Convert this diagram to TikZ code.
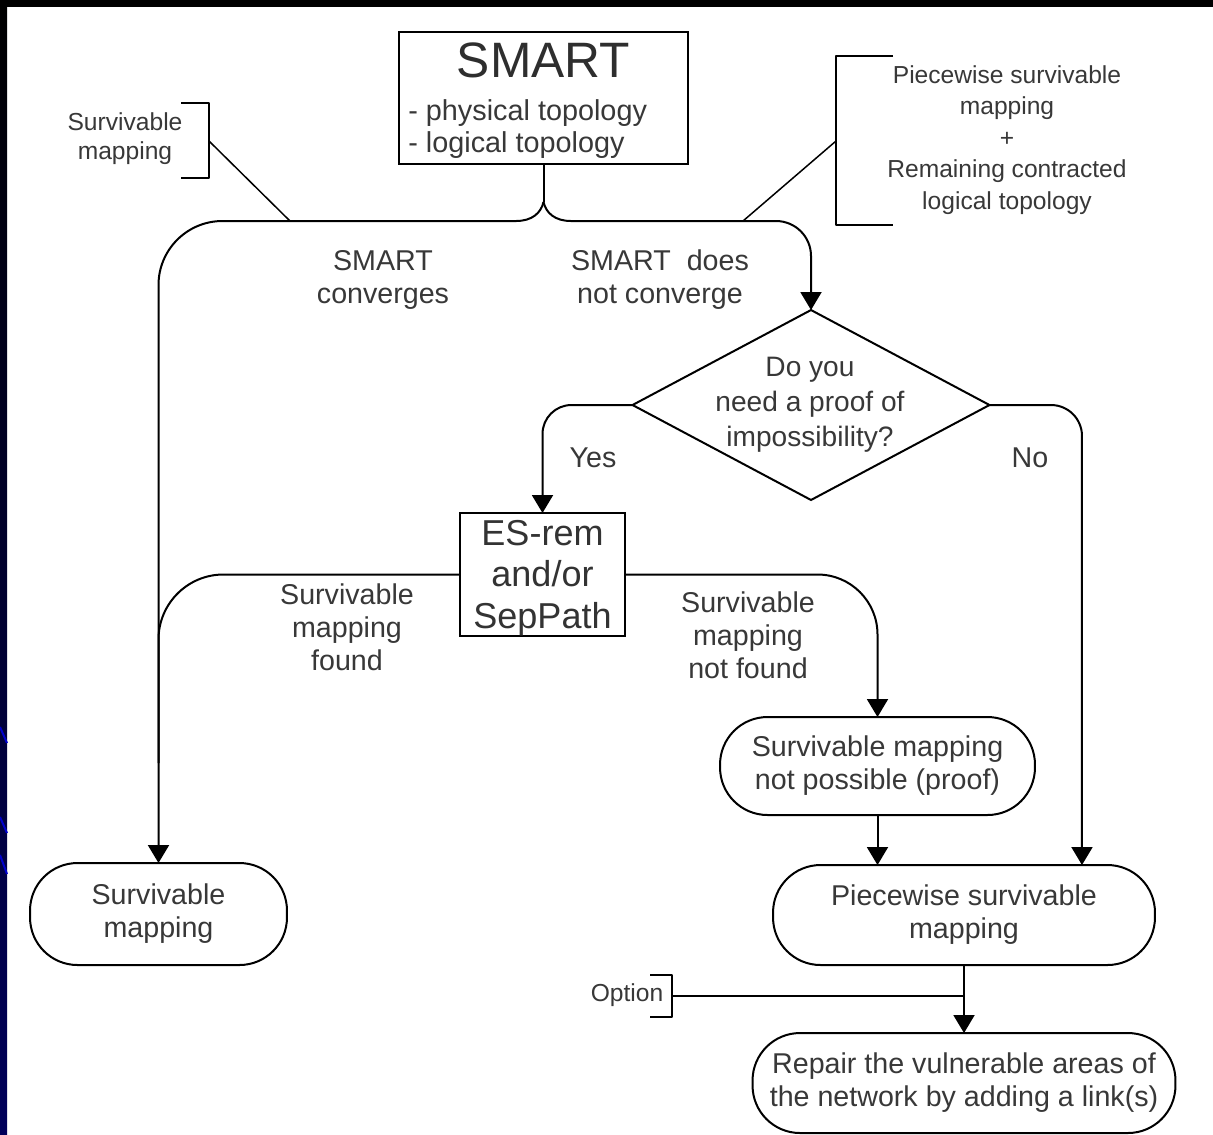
\documentclass[tikz,border=0pt]{standalone}
\usepackage{fontspec}
\setmainfont{Liberation Sans}
\usetikzlibrary{shapes.geometric,arrows.meta,calc}
\newcommand\fsz[2]{\fontsize{#1pt}{#2pt}\selectfont}
\begin{document}
\begin{tikzpicture}[x=0.02cm,y=-0.02cm,
  conn/.style={line width=0.04cm, line join=round},
  annline/.style={line width=0.03cm},
  arr/.style={-{Triangle[width=0.42cm,length=0.36cm]}},
  shp/.style={draw, line width=0.04cm, inner sep=0pt, outer sep=0pt},
  term/.style={shp, rounded corners=0.95cm, align=center, text=black!78, font=\fsz{16.3}{18.8}},
  lbl/.style={align=center, text=black!78, inner sep=0pt, font=\fsz{16.3}{18.8}},
  ann/.style={align=center, text=black!78, inner sep=0pt, font=\fsz{14}{16.6}},
]
% background and frame
\fill[white] (0,0) rectangle (1213,1134);
\useasboundingbox (0,0) rectangle (1213,1134);
\fill[black] (0,0) rectangle (1213,7);
\shade[top color=black, bottom color={rgb,255:red,0;green,0;blue,90}] (0,7) rectangle (7,1134);
\draw[blue!80!black, line width=0.04cm] (0,727) -- (7,743);
\draw[blue!80!black, line width=0.04cm] (0,817) -- (7,833);
\draw[blue!80!black, line width=0.04cm] (0,855) -- (7,874);

% SMART box
\node[shp, minimum width=5.78cm, minimum height=2.64cm] (smart) at (543.5,98) {};
\node[text=black!82, inner sep=0pt, font=\fsz{28.3}{30}] (smartT) at (543.5,60) {SMART};
\node[anchor=base west, text=black!78, inner sep=0pt, font=\fsz{16.4}{18}] (phys) at (408,120) {- physical topology};
\node[anchor=base west, text=black!78, inner sep=0pt, font=\fsz{16.4}{18}] (logi) at (408,152) {- logical topology};

% decision diamond
\node[shp, diamond, minimum width=7.14cm, minimum height=3.8cm] (diam) at (811,405) {};
\node[lbl, font=\fsz{16}{19.8}] (diamT) at (810,405) {Do you\\need a proof of\\impossibility?};

% ES-rem box
\node[shp, minimum width=3.3cm, minimum height=2.46cm] (es) at (542.5,574.5) {};
\node[align=center, inner sep=0pt, text=black!80, font=\fsz{20.5}{23.8}] (esT) at (542.5,578) {ES-rem\\and/or\\SepPath};

% terminals
\node[term, minimum width=5.14cm, minimum height=2.04cm] (term1) at (158.5,914) {Survivable\\mapping};
\node[term, minimum width=6.3cm, minimum height=1.96cm] (notposs) at (877.5,766) {Survivable mapping\\not possible (proof)};
\node[term, minimum width=7.64cm, minimum height=2cm] (piece) at (964,915) {Piecewise survivable\\mapping};
\node[term, minimum width=8.46cm, minimum height=2cm] (repair) at (964,1083) {Repair the vulnerable areas of\\the network by adding a link(s)};

% junction below SMART
\coordinate (jn) at (543.5,202);
\coordinate (hl) at (516,221);
\coordinate (hr) at (571,221);
\draw[conn] (smart.south) -- (jn);
\draw[conn] (jn) .. controls (541,213) and (532,221) .. (hl);
\draw[conn] (jn) .. controls (546,213) and (555,221) .. (hr);
\draw[conn, arr, rounded corners=1.28cm] (hl) -| (term1.north);
\draw[conn, arr, rounded corners=0.7cm] (hr) -| (diam.north);

% decision branches
\draw[conn, arr, rounded corners=0.58cm] (diam.west) -| (es.north);
\draw[conn, arr, rounded corners=0.62cm] (diam.east) -| ([xshift=2.36cm]piece.north);

% ES branches
\draw[conn, rounded corners=1.3cm] (es.west) -| ([yshift=2cm]term1.north);
\draw[conn, arr, rounded corners=1.2cm] (es.east) -| (notposs.north);
\draw[conn, arr] (notposs.south) -- (notposs.south |- piece.north);
\draw[conn, arr] (piece.south) -- (repair.north);

% labels
\node[lbl] (lconv) at (383,280) {SMART\\converges};
\node[lbl] (lnconv) at (660,280) {SMART\ \ does\\not converge};
\node[lbl] (yes) at (593,458) {Yes};
\node[lbl] (no) at (1030,458) {No};
\node[lbl] (lfound) at (347,627) {Survivable\\mapping\\found};
\node[lbl] (lnfound) at (748,635) {Survivable\\mapping\\not found};

% annotation: survivable mapping
\node[ann] (annL) at (125,139) {Survivable\\mapping};
\draw[conn] (181,103) -- (209,103) -- (209,178) -- (181,178);
\coordinate (bL) at (209,141);
\coordinate (bLe) at (290,221);
\draw[annline] (bL) -- (bLe);

% annotation: piecewise
\node[ann, font=\fsz{14}{18}] (annR) at (1007,140) {Piecewise survivable\\mapping\\+\\Remaining contracted\\logical topology};
\draw[conn] (893,56) -- (836,56) -- (836,225) -- (893,225);
\coordinate (bR) at (836,141);
\coordinate (bRe) at (743,221);
\draw[annline] (bR) -- (bRe);

% option
\node[ann] (opt) at (627,995) {Option};
\draw[conn] (650,975) -- (672,975) -- (672,1017) -- (650,1017);
\coordinate (optR) at (672,996);
\draw[conn] (optR) -- (optR -| piece.south);
\end{tikzpicture}
\end{document}
